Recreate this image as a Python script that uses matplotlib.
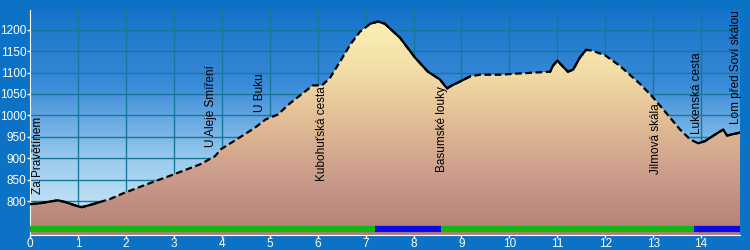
import numpy as np
import matplotlib
matplotlib.use("Agg")
import matplotlib.pyplot as plt
from matplotlib.colors import LinearSegmentedColormap

# --- profile data (km, m) ---
km = [0.0, 0.2, 0.58, 0.73, 1.0, 1.08, 1.25, 1.46, 1.67, 1.96, 2.5, 2.94, 3.55,
      3.86, 3.98, 4.38, 4.7, 4.92, 5.17, 5.42, 5.74, 5.9, 6.09, 6.26, 6.47, 6.68,
      6.88, 7.1, 7.26, 7.4, 7.72, 8.03, 8.3, 8.55, 8.7, 8.8, 8.97, 9.18, 9.39, 9.8,
      10.22, 10.85, 10.91, 11.0, 11.1, 11.22, 11.33, 11.47, 11.6, 11.73, 12.0,
      12.3, 12.72, 12.98, 13.14, 13.35, 13.56, 13.77, 13.94, 14.08, 14.23, 14.4,
      14.46, 14.54, 14.65, 14.81]
elev = [793, 795, 802, 798, 788, 786, 791, 798, 805, 819, 842, 860, 886,
        905, 921, 949, 972, 991, 1002, 1028, 1056, 1070, 1070, 1088, 1126, 1165,
        1195, 1214, 1219, 1214, 1181, 1135, 1102, 1084, 1063, 1070, 1079, 1091, 1095, 1095,
        1098, 1102, 1116, 1128, 1116, 1102, 1107, 1135, 1153, 1151, 1140,
        1116, 1074, 1044, 1023, 995, 967, 944, 935, 940, 951, 963,
        967, 953, 956, 960]

# parts of the track drawn with a solid line (rest is dashed)
solid_parts = [(0.0, 1.5), (7.0, 9.3), (10.85, 11.6), (13.9, 14.81)]

# waypoints: name, km, elevation of the label's lower end
wp_names = ["Za Pravětínem", "U Aleje Smíření", "U Buku", "Kubohuťská cesta",
            "Basumské louky", "Jilmová skála", "Lukenská cesta", "Lom před Soví skálou"]
wp_km = [0.17, 3.78, 4.80, 6.09, 8.60, 13.06, 13.92, 14.73]
wp_y = [816, 926, 1007, 847, 867, 863, 956, 979]

# surface bar along the bottom
surf_start = [0.0, 7.2, 8.57, 13.85]
surf_end = [7.2, 8.57, 13.85, 14.81]
surf_color = ["#10b810", "#0a0ae6", "#10b810", "#0a0ae6"]

x_ticks = list(range(0, 15))
y_ticks = list(range(800, 1201, 50))

XMIN, XMAX = 0, 14.81
YMIN, YMAX = 721, 1246

plt.rcParams["font.family"] = ["Liberation Sans", "DejaVu Sans"]

fig = plt.figure(figsize=(7.5, 2.5), dpi=100, facecolor="#0b72c6")
ax = fig.add_axes([30 / 750, 15 / 250, 710 / 750, 225 / 250])
ax.set_xlim(XMIN, XMAX)
ax.set_ylim(YMIN, YMAX)

# sky gradient
sky = LinearSegmentedColormap.from_list("sky", ["#d8eef9", "#9ccbee", "#3a8bd8", "#1672c8"])
grad = np.linspace(0, 1, 256).reshape(-1, 1)
ax.imshow(grad, cmap=sky, extent=[XMIN, XMAX, YMIN, YMAX], origin="lower",
          aspect="auto", zorder=0)

# grid
for xv in x_ticks[1:]:
    ax.axvline(xv, color="#15789a", lw=1, zorder=1)
for yv in y_ticks:
    ax.axhline(yv, color="#15789a", lw=1, zorder=1)

# ground gradient clipped to the profile
ground = LinearSegmentedColormap.from_list("ground", ["#b47e76", "#c9998a", "#dfb993", "#f2dca6", "#faf2b8"])
poly = ax.fill_between(km, elev, YMIN, facecolor="none", edgecolor="none")
im = ax.imshow(grad, cmap=ground, extent=[XMIN, XMAX, YMIN, 1225], origin="lower",
               aspect="auto", zorder=2)
im.set_clip_path(poly.get_paths()[0], transform=ax.transData)

# profile line: dashed everywhere, solid parts on top
km_a = np.array(km)
el_a = np.array(elev)
line, = ax.plot(km_a, el_a, color="black", lw=1.6, zorder=4)
line.set_dashes([3, 1.6])
for a, b in solid_parts:
    m = (km_a >= a) & (km_a <= b)
    ax.plot(km_a[m], el_a[m], color="black", lw=1.6, zorder=4, solid_capstyle="round")

# surface bar
for s, e, c in zip(surf_start, surf_end, surf_color):
    ax.plot([s, e], [734, 734], color=c, lw=4.5, solid_capstyle="butt", zorder=5)

# waypoint labels
for name, x, y in zip(wp_names, wp_km, wp_y):
    ax.text(x, y, name, rotation=90, ha="center", va="bottom", fontsize=8.5,
            color="black", zorder=6)

ax.set_xticks(x_ticks)
ax.set_yticks(y_ticks)
ax.tick_params(axis="y", colors="white", labelsize=8.5, length=2, width=1, pad=0.5)
ax.tick_params(axis="x", colors="white", labelsize=8.5, length=2, width=1, pad=0.5)
for side in ["top", "right"]:
    ax.spines[side].set_visible(False)
for side in ["left", "bottom"]:
    ax.spines[side].set_color("white")

fig.savefig("out.png", dpi=100, facecolor=fig.get_facecolor())
